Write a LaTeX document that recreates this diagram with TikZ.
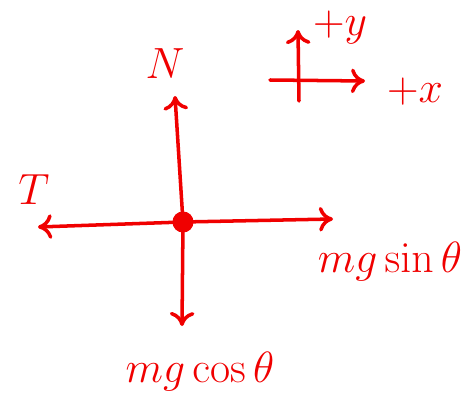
\documentclass[tikz,border=0pt]{standalone}
\usepackage{xcolor}
\usetikzlibrary{arrows.meta, math}
\definecolor{myred}{RGB}{240, 0, 0}

\begin{document}
\begin{tikzpicture}[x=0.02cm, y=-0.02cm,
  force/.style={-{To[length=8pt,width=14pt]}, line width=2pt, color=myred, line cap=round},
  lbl/.style={color=myred, font=\fontsize{23}{27}\selectfont}]
\tikzmath{
\cx=183;
\cy=222;
}
\useasboundingbox (0,0) rectangle (474,419);

% body
\node[circle, fill=myred, inner sep=0pt, minimum size=12pt] (O) at (\cx,\cy) {};

% forces
\coordinate (Ntip) at (175,96);
\coordinate (Ttip) at (38,227);
\coordinate (Stip) at (333,219);
\coordinate (Ctip) at (182,326);
\draw[force] (O.center) -- (Ntip);
\draw[force] (O.center) -- (Ttip);
\draw[force] (O.center) -- (Stip);
\draw[force] (O.center) -- (Ctip);

\node[lbl] (N) at (165,64) {$N$};
\node[lbl] (T) at (34,190) {$T$};
\node[lbl] (S) at (390,262) {$mg\sin\theta$};
\node[lbl] (C) at (200,372) {$mg\cos\theta$};

% axes
\coordinate (yb) at (299,101);
\coordinate (yt) at (298,30);
\coordinate (xl) at (270,80);
\coordinate (xr) at (365,81);
\draw[force] (yb) -- (yt);
\draw[force] (xl) -- (xr);
\node[lbl] (py) at (340,27) {$+y$};
\node[lbl] (px) at (415,92) {$+x$};
\end{tikzpicture}
\end{document}
